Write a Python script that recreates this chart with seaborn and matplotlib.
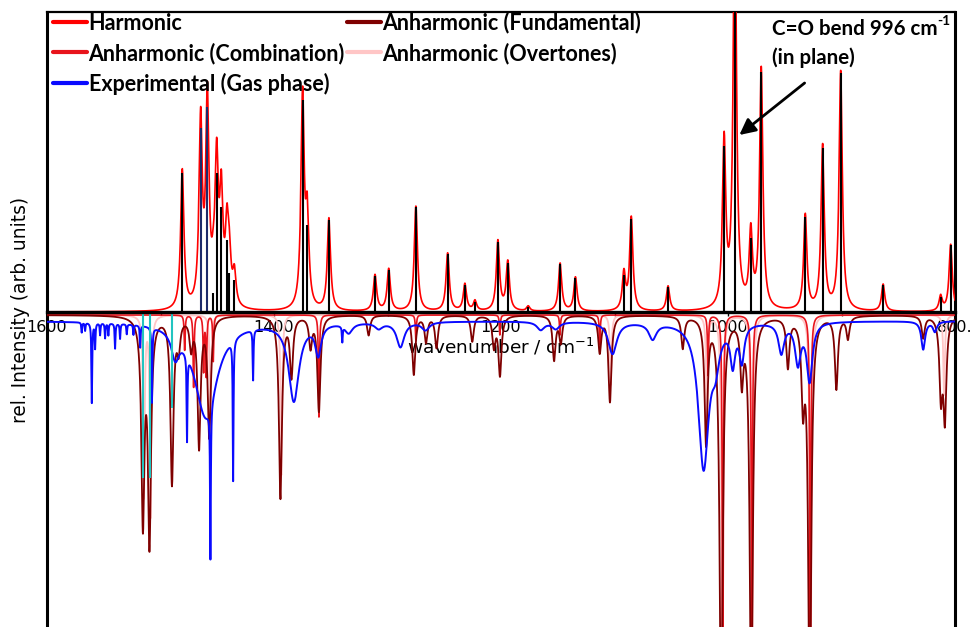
import numpy as np
import pandas as pd
import matplotlib
matplotlib.use("Agg")
import matplotlib.pyplot as plt
import seaborn as sns

# ---------------- data ----------------
# Harmonic stick spectrum (wavenumber, intensity)
harm_pos = [1480.8, 1464.6, 1458.7, 1453.4, 1450.5, 1446.4, 1441.4, 1439.3, 1434.9,
            1374.8, 1370.7, 1351.6, 1311.0, 1298.9, 1275.0, 1247.0, 1231.8, 1222.9,
            1202.7, 1194.0, 1176.0, 1147.9, 1134.4, 1091.7, 1085.2, 1052.8, 1003.4,
            994.0, 979.9, 970.7, 931.9, 916.6, 900.7, 863.3, 812.6, 803.8]
harm_int = [139, 184, 205, 19, 139, 105, 72, 39, 32,
            212, 87, 92, 36, 42, 105, 58, 27, 10,
            70, 49, 5, 48, 34, 37, 93, 25, 166,
            420, 74, 240, 95, 164, 239, 27, 15, 67]

# Anharmonic (Fundamental) bands, plotted downwards
fund_pos = [1515.5, 1509.7, 1489.9, 1484.0, 1473.0, 1466.0, 1457.0, 1394.3, 1384.6,
            1367.8, 1360.4, 1316.6, 1276.8, 1266.0, 1256.8, 1225.3, 1206.2, 1200.9,
            1153.2, 1147.3, 1113.0, 1104.0, 1039.8, 1019.3, 1006.0, 987.8, 979.5,
            947.2, 933.9, 928.0, 904.5, 894.3, 828.0, 812.4, 808.9]
fund_int = [202, 221, 166, 29, 29, 129, 119, 182, 59,
            30, 95, 20, 59, 26, 32, 26, 30, 59,
            44, 26, 36, 86, 32, 125, 420, 59, 400,
            49, 79, 400, 72, 22, 22, 76, 99]

# Anharmonic (Combination) bands
comb_pos = [1478.7, 1470.8, 1462.0, 1459.6, 1453.5, 1360.4, 1275.0, 1201.0, 1148.0,
            1113.0, 1017.6, 1004.6, 979.0, 927.5]
comb_int = [35, 72, 55, 60, 46, 102, 25, 20, 20, 30, 60, 400, 400, 400]

# Anharmonic (Overtones) bands
over_pos = [1514.6, 1508.8, 1456.0, 1393.5, 1103.3, 1018.5, 1005.2, 978.7, 927.2, 809.6]
over_int = [180, 200, 100, 160, 70, 110, 380, 380, 380, 80]

# Experimental (gas phase) absorption bands: position, depth, half width
exp_pos = [1569.4, 1566.4, 1560.5, 1557.6, 1553.2, 1548.8, 1545.9, 1540.0, 1535.6,
           1529.7, 1523.8, 1517.9, 1507.5, 1487.0, 1476.6, 1460.0, 1456.0, 1436.0,
           1418.4, 1382.5, 1361.0, 1339.8, 1334.2, 1307.7, 1288.6, 1266.5, 1165.0,
           1151.7, 1101.7, 1066.4, 1021.5, 1011.0, 995.8, 987.8, 953.0, 938.4,
           928.1, 828.0, 817.7]
exp_int = [10, 8, 80, 25, 12, 15, 12, 25, 15,
           10, 10, 22, 75, 25, 85, 95, 152, 140,
           50, 78, 30, 15, 10, 6, 25, 8, 8,
           7, 32, 16, 145, 30, 38, 36, 30, 40,
           58, 28, 10]
exp_wid = [0.4, 0.4, 0.4, 0.4, 0.4, 0.4, 0.4, 0.4, 0.4,
           0.4, 0.4, 0.4, 0.4, 4.0, 0.4, 12.0, 0.4, 0.4,
           0.4, 5.5, 3.0, 0.4, 4.0, 4.0, 4.0, 4.0, 4.0,
           4.0, 4.5, 4.0, 5.5, 4.0, 2.5, 2.5, 3.0, 3.0,
           3.0, 2.0, 2.0]

# Cyan sticks under the axis
cyan_pos = [1515.5, 1509.2, 1490.0]
cyan_int = [166, 166, 96]

x_ticks = [1600, 1400, 1200, 1000, 800]
x_tick_labels = ["1600", "1400", "1200", "1000", "800."]

# ---------------- build curves ----------------
wn = np.arange(795.0, 1605.0, 0.05)


def lorentz(pos, amp, gam):
    pos = np.asarray(pos, float)[:, None]
    amp = np.asarray(amp, float)[:, None]
    gam = np.broadcast_to(np.asarray(gam, float), (pos.shape[0],))[:, None]
    return (amp * gam ** 2 / ((wn[None, :] - pos) ** 2 + gam ** 2)).sum(axis=0)


harm = lorentz(harm_pos, harm_int, 1.7)
fund = -3 - lorentz(fund_pos, fund_int, 1.6)
comb = -3 - lorentz(comb_pos, comb_int, 0.5)
over = -3 - lorentz(over_pos, over_int, 0.8)
expt = -9 - lorentz(exp_pos, exp_int, exp_wid)

df = pd.DataFrame({"wn": wn, "harm": harm, "fund": fund, "comb": comb,
                   "over": over, "expt": expt})

# ---------------- plot ----------------
sns.set_theme(style="white")
plt.rcParams["font.family"] = ["DejaVu Sans"]
plt.rcParams["text.color"] = "black"
plt.rcParams["axes.labelcolor"] = "black"
plt.rcParams["xtick.color"] = "black"

fig = plt.figure(figsize=(9.74, 6.27), dpi=100)
ax = fig.add_axes([47 / 974, 0.0, 908 / 974, 1 - 12 / 627])

c_harm = "#ff0000"
c_fund = "#7f0000"
c_comb = "#e8141c"
c_over = "#ffc6c6"
c_exp = "#0a0aff"

sns.lineplot(data=df, x="wn", y="over", ax=ax, color=c_over, lw=1.3,
             estimator=None, sort=False, label="Anharmonic (Overtones)", zorder=2)
sns.lineplot(data=df, x="wn", y="comb", ax=ax, color=c_comb, lw=1.2,
             estimator=None, sort=False, label="Anharmonic (Combination)", zorder=3)
sns.lineplot(data=df, x="wn", y="fund", ax=ax, color=c_fund, lw=1.3,
             estimator=None, sort=False, label="Anharmonic (Fundamental)", zorder=3)
sns.lineplot(data=df, x="wn", y="expt", ax=ax, color=c_exp, lw=1.4,
             estimator=None, sort=False, label="Experimental (Gas phase)", zorder=4)
sns.lineplot(data=df, x="wn", y="harm", ax=ax, color=c_harm, lw=1.2,
             estimator=None, sort=False, label="Harmonic", zorder=3)

stick_colors = ["#1c2a6a" if p in (1464.6, 1458.7) else "black" for p in harm_pos]
ax.vlines(harm_pos, 0, harm_int, colors=stick_colors, lw=1.5, zorder=4)
ax.vlines(cyan_pos, 0, [-v for v in cyan_int], colors="#22c4c0", lw=1.5, zorder=5)

ax.set_xlim(1600, 800)
ax.set_ylim(-315, 300)

# spines / axis
for s in ["left", "right", "top"]:
    ax.spines[s].set_visible(True)
    ax.spines[s].set_color("black")
ax.spines["left"].set_linewidth(2.2)
ax.spines["right"].set_linewidth(2.2)
ax.spines["top"].set_linewidth(1.6)
ax.spines["bottom"].set_position(("data", 0))
ax.spines["bottom"].set_linewidth(2.4)
ax.spines["bottom"].set_color("black")
ax.spines["bottom"].set_zorder(6)

ax.set_xticks(x_ticks)
ax.set_xticklabels(x_tick_labels)
ax.set_xticks([1500, 1300, 1100, 900], minor=True)
ax.tick_params(axis="x", which="both", direction="out", length=3, width=1,
               color="black", labelsize=11.5, pad=2.5, bottom=True)
ax.set_yticks([])
ax.set_xlabel("wavenumber / cm$^{-1}$", fontsize=13.3, labelpad=1.5)
ax.set_ylabel("rel. Intensity (arb. units)", fontsize=13.4)
ax.yaxis.set_label_coords(-0.019, 0.515)

# legend
h, l = ax.get_legend_handles_labels()
order = ["Harmonic", "Anharmonic (Combination)", "Experimental (Gas phase)",
         "Anharmonic (Fundamental)", "Anharmonic (Overtones)"]
hd = dict(zip(l, h))
leg = ax.legend([hd[k] for k in order], order, loc="upper left",
                bbox_to_anchor=(6 / 908, 1.0), ncol=2,
                frameon=False, prop={"family": "Lato", "weight": "bold", "size": 15.5},
                handlelength=1.6, handletextpad=0.05, columnspacing=0.1,
                labelspacing=0.4, borderaxespad=0.0, borderpad=0.0)
for line in leg.get_lines():
    line.set_linewidth(3)

# annotation
t1 = ax.text(961.5, 293, "C=O bend 996 cm", ha="left", va="top",
             fontsize=14.8, fontfamily="Lato", fontweight="bold", zorder=7)
ax.text(961.5, 265, "(in plane)", ha="left", va="top",
        fontsize=14.8, fontfamily="Lato", fontweight="bold", zorder=7)
ax.annotate("-1", xy=(1.0, 0.62), xycoords=t1, ha="left", va="bottom",
            fontsize=10, fontfamily="Lato", fontweight="bold", zorder=7)
ax.annotate("", xy=(990.0, 177), xytext=(932.5, 229),
            arrowprops=dict(arrowstyle="-|>", color="black", lw=2, mutation_scale=24,
                            shrinkA=0, shrinkB=0), zorder=7)

fig.savefig("out.png", dpi=100)
